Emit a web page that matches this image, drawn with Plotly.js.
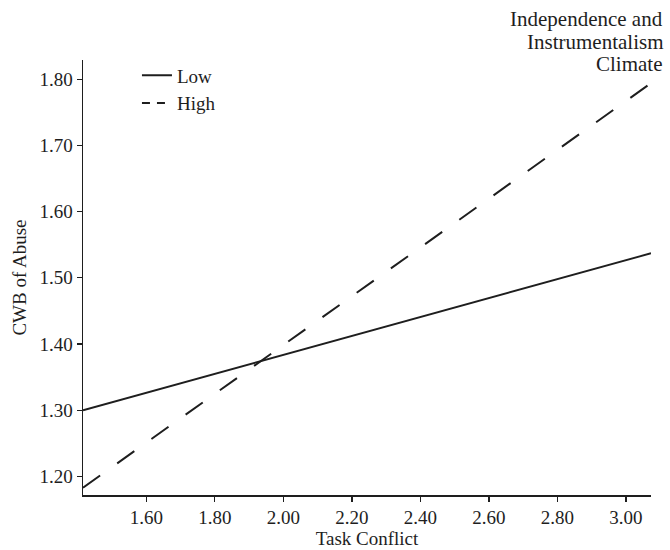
<!DOCTYPE html>
<html>
<head>
<meta charset="utf-8">
<script src="https://cdn.plot.ly/plotly-3.0.1.min.js"></script>
<style>html,body{margin:0;padding:0;background:#fff;}#chart{width:670px;height:550px;}</style>
</head>
<body>
<div id="chart"></div>
<script>
// Data
const taskConflict = [1.415, 3.073];
const cwbLow = [1.300, 1.537];
const cwbHigh = [1.183, 1.794];
const seriesNames = ["Low", "High"];
const xTicks = [1.60, 1.80, 2.00, 2.20, 2.40, 2.60, 2.80, 3.00];
const yTicks = [1.20, 1.30, 1.40, 1.50, 1.60, 1.70, 1.80];
const titleLines = ["Independence and", "Instrumentalism", "Climate"];
const xLabel = "Task Conflict";
const yLabel = "CWB of Abuse";

const FONT = "Liberation Serif, Times New Roman, serif";
const INK = "#1e1e1e";

const traces = [
  {x: taskConflict, y: cwbLow, mode: "lines", name: seriesNames[0],
   line: {color: INK, width: 2, dash: "solid"}, showlegend: true},
  {x: taskConflict, y: cwbHigh, mode: "lines", name: seriesNames[1],
   line: {color: INK, width: 2, dash: "21px,21px"}, showlegend: false},
  // legend-only entry with the short dash look of the reference legend
  {x: [null], y: [null], mode: "lines", name: seriesNames[1],
   line: {color: INK, width: 2, dash: "8px,7px"}, showlegend: true, hoverinfo: "skip"}
];

// title lines placed with a tight line spacing (as in the reference)
const titleY = [1.0943, 1.0414, 0.9908];
const annotations = titleLines.map((t, i) => ({
  text: t, xref: "paper", yref: "paper",
  x: 1.0246, xanchor: "right", y: titleY[i], yanchor: "middle",
  showarrow: false, font: {family: FONT, size: 21, color: INK}
}));

const layout = {
  width: 670, height: 550,
  paper_bgcolor: "#fff", plot_bgcolor: "#fff",
  margin: {l: 83, r: 19, t: 60, b: 55},
  font: {family: FONT, size: 19, color: INK},
  annotations: annotations,
  xaxis: {range: [1.415, 3.073], tickvals: xTicks, tickformat: ".2f",
          showgrid: false, zeroline: false, showline: true, linecolor: INK, linewidth: 1.5,
          ticks: "outside", ticklen: 5, tickwidth: 1.2, tickcolor: INK,
          tickfont: {family: FONT, size: 19, color: INK},
          title: {text: xLabel, font: {family: FONT, size: 19, color: INK}, standoff: 4}},
  yaxis: {range: [1.172, 1.829], tickvals: yTicks, tickformat: ".2f",
          showgrid: false, zeroline: false, showline: true, linecolor: INK, linewidth: 1.5,
          ticks: "outside", ticklen: 5, tickwidth: 1.2, tickcolor: INK,
          tickfont: {family: FONT, size: 19, color: INK},
          title: {text: yLabel, font: {family: FONT, size: 19, color: INK}, standoff: 8}},
  legend: {x: 0.095, xanchor: "left", y: 1.008, yanchor: "top",
           bgcolor: "rgba(0,0,0,0)", borderwidth: 0,
           font: {family: FONT, size: 19, color: INK}, tracegroupgap: 0},
  showlegend: true
};

Plotly.newPlot("chart", traces, layout, {displayModeBar: false, staticPlot: true});
</script>
</body>
</html>
